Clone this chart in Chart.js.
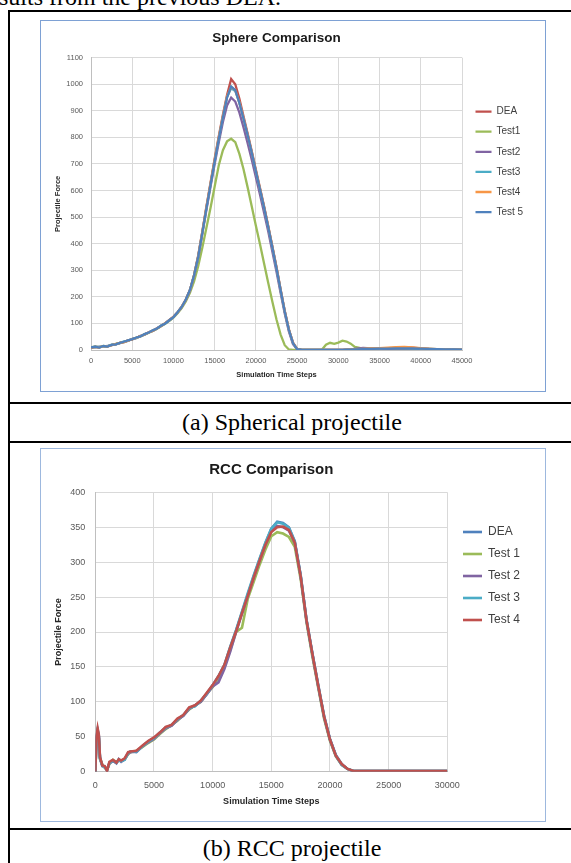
<!DOCTYPE html>
<html><head><meta charset="utf-8">
<script src="https://cdn.jsdelivr.net/npm/chart.js@4.4.1/dist/chart.umd.min.js"></script>
<style>
html,body{margin:0;padding:0;background:#fff;}
body{width:571px;height:863px;overflow:hidden;position:relative;}
.txt{position:absolute;font-family:"Liberation Serif","Times New Roman",serif;font-size:24px;line-height:24px;color:#000;white-space:nowrap;}
.cap{left:10px;width:564px;text-align:center;}
.hl{position:absolute;background:#000;height:2px;left:8px;width:600px;}
.vl{position:absolute;background:#000;width:2px;left:8px;top:10px;height:900px;}
.box{position:absolute;left:40px;width:506px;border:1px solid #7EA1D4;box-sizing:border-box;background:#fff;}
.box canvas{display:block;}
</style></head>
<body>
<div class="txt" style="left:-1px;top:-15px;">sults from the previous DEA.</div>
<div class="hl" style="top:10px"></div>
<div class="vl"></div>
<div class="box" style="top:20px;height:372px;"><canvas id="c1" width="504" height="370"></canvas></div>
<div class="hl" style="top:402px"></div>
<div class="txt cap" style="top:410px;">(a) Spherical projectile</div>
<div class="hl" style="top:441px"></div>
<div class="box" style="top:448px;height:374px;border-color:#9DB8DE;"><canvas id="c2" width="504" height="372"></canvas></div>
<div class="hl" style="top:828px"></div>
<div class="txt cap" style="top:836px;">(b) RCC projectile</div>
<script>
// ---------- Sphere comparison data ----------
const sphereSteps = [0,500,1000,1500,2000,2500,3000,3500,4000,4500,
 5000,5500,6000,6500,7000,7500,8000,8500,9000,9500,
 10000,10500,11000,11500,12000,12500,13000,13500,14000,14500,
 15000,15500,16000,16500,17000,17500,18000,18500,19000,19500,
 20000,20500,21000,21500,22000,22500,23000,23500,24000,24500,
 25000,25500,26000,27000,28000,28500,29000,29500,30000,30500,
 31000,31500,32000,33000,34000,35000,36000,37000,38000,39000,
 40000,41000,42000,43000,44000,45000];
const sphereLabels = ["DEA","Test1","Test2","Test3","Test4","Test 5"];
const sphereDEA = [8,12,9,14,13,19,22,26,31,35,
 41,46,52,59,66,73,81,91,101,112,
 125,142,163,190,226,282,355,445,540,630,
 720,805,885,960,1020,1000,945,880,815,748,
 678,610,540,466,390,312,228,148,78,28,
 4,1,0,0,0,0,0,0,0,0,
 1,1,2,4,5,5,6,8,10,9,
 6,4,3,2,1,1];
const sphereTest1 = [10,13,10,15,14,18,23,27,30,36,
 40,47,51,58,65,72,80,89,99,110,
 122,138,158,183,215,258,315,385,460,535,
 615,695,752,785,795,782,738,680,612,540,
 468,398,325,252,182,115,58,18,2,0,
 0,0,0,0,1,20,27,23,28,35,
 32,24,12,5,4,3,3,2,3,2,
 1,0,0,0,0,0];
const sphereTest2 = [9,11,12,13,15,18,21,27,30,36,
 40,45,53,58,67,72,82,90,100,113,
 124,141,161,188,223,278,348,437,528,615,
 700,782,858,920,950,935,893,838,778,716,
 650,584,516,446,370,294,214,137,70,22,
 3,1,0,0,0,0,0,0,0,0,
 1,2,4,8,6,4,4,5,6,5,
 4,3,2,1,1,1];
const sphereTest3 = [11,10,13,12,15,20,21,26,32,34,
 42,45,52,60,65,74,80,92,100,111,
 124,141,162,189,225,280,352,442,535,625,
 712,797,878,952,985,975,930,870,808,742,
 672,604,535,462,386,308,225,145,76,26,
 3,1,0,0,0,0,0,0,0,0,
 1,1,2,4,5,6,7,8,7,6,
 5,4,3,2,1,1];
const sphereTest4 = [9,12,11,14,14,18,22,27,30,35,
 41,46,52,59,66,73,81,90,101,112,
 125,141,162,189,225,281,353,443,537,627,
 715,800,880,955,990,978,932,872,810,744,
 674,606,537,464,388,310,226,146,77,27,
 3,1,0,0,0,0,0,0,0,0,
 1,1,2,4,6,7,9,11,12,10,
 7,5,3,2,1,1];
const sphereTest5 = [10,13,9,15,13,19,21,27,31,36,
 41,47,51,60,66,74,81,91,100,112,
 124,142,162,190,226,281,350,440,533,622,
 710,795,875,950,992,978,930,870,808,742,
 672,604,535,462,386,308,225,145,76,26,
 3,1,0,0,0,0,0,0,0,0,
 1,1,2,3,4,5,5,6,6,6,
 5,4,3,2,2,1];
const sphereXTicks = [0,5000,10000,15000,20000,25000,30000,35000,40000,45000];
const sphereYTicks = [0,100,200,300,400,500,600,700,800,900,1000,1100];

// ---------- RCC comparison data ----------
const rccSteps = [0,100,200,300,400,600,800,1000,1200,1500,
 1800,2000,2200,2500,2800,3000,3500,4000,4500,5000,
 5500,6000,6500,7000,7500,8000,8500,9000,9500,10000,
 10500,11000,11500,12000,12500,13000,13500,14000,14500,15000,
 15500,16000,16500,17000,17500,18000,18500,19000,19500,20000,
 20500,21000,21500,22000,23000,24000,25000,26000,27000,28000,
 29000,30000];
const rccLabels = ["DEA","Test 1","Test 2","Test 3","Test 4"];
const rccDEA = [0,48,60,52,20,9,7,2,13,16,
 12,18,15,17,27,29,28,36,43,48,
 55,63,66,75,80,91,94,101,111,123,
 136,152,178,202,228,254,280,304,327,348,
 358,356,350,330,282,218,170,124,80,47,
 24,11,4,1,1,1,1,1,1,1,
 1,1];
const rccTest1 = [0,44,57,48,18,10,6,3,11,17,
 14,16,16,18,25,28,30,35,41,46,
 54,61,67,73,81,89,95,100,112,121,
 134,150,174,200,206,248,272,296,318,337,
 343,341,336,322,276,214,165,120,76,44,
 22,10,4,1,1,1,1,1,1,1,
 1,1];
const rccTest2 = [0,46,58,50,19,8,7,3,12,15,
 13,17,14,18,26,28,29,36,42,47,
 55,62,66,74,80,90,95,100,111,122,
 128,147,172,200,226,252,278,302,325,344,
 352,350,345,328,280,216,168,122,78,46,
 23,10,4,1,1,1,1,1,1,1,
 1,1];
const rccTest3 = [0,47,59,51,19,9,6,2,12,16,
 13,17,15,17,27,29,29,36,43,48,
 56,63,67,75,81,91,94,102,112,124,
 137,153,179,203,229,256,281,305,328,348,
 357,355,349,329,281,217,169,123,79,46,
 23,10,4,1,1,1,1,1,1,1,
 1,1];
const rccTest4 = [0,50,62,53,21,9,8,1,14,17,
 13,18,16,19,28,29,30,37,44,49,
 56,64,67,76,81,92,95,102,113,124,
 137,153,178,201,227,252,278,302,325,343,
 350,351,346,328,280,217,169,123,79,46,
 23,11,4,1,1,1,1,1,1,1,
 1,1];
const rccXTicks = [0,5000,10000,15000,20000,25000,30000];
const rccYTicks = [0,50,100,150,200,250,300,350,400];

// ---------- helpers ----------
const C_BLUE='#4F81BD', C_RED='#C0504D', C_GREEN='#9BBB59', C_PURPLE='#8064A2', C_AQUA='#4BACC6', C_ORANGE='#F79646';
Chart.defaults.font.family = '"Liberation Sans", Arial, sans-serif';
function pts(xs, ys){ return xs.map((x,i)=>({x:x, y:ys[i]})); }
function mkSet(label, xs, ys, color, w, order){
  return {label:label, data:pts(xs, ys), borderColor:color, backgroundColor:color,
    borderWidth:w, pointRadius:0, pointHoverRadius:0, tension:0, fill:false, order:order};
}
const placeLegend = {
  id:'placeLegend',
  afterLayout(chart, args, o){
    const lg = chart.legend; if(!lg) return;
    lg.left = o.x; lg.right = o.x + 200; lg.top = o.y; lg.bottom = o.y + 300;
  }
};
function ticksFrom(list){ return function(scale){ scale.ticks = list.map(v=>({value:v})); }; }

function build(id, cfg){
  const s = cfg.sets;
  return new Chart(document.getElementById(id), {
    type:'line',
    data:{datasets:s},
    plugins:[placeLegend],
    options:{
      responsive:false, animation:false, devicePixelRatio:1,
      layout:{padding:{left:0, top:0, bottom:0, right:cfg.padR}},
      plugins:{
        tooltip:{enabled:false},
        title:{display:true, text:cfg.title, fullSize:false, color:'#1a1a1a',
          font:{size:cfg.titleSize, weight:'bold'}, padding:{top:cfg.titleTop, bottom:cfg.titleBottom}},
        legend:{display:true, position:'right', align:'start', maxWidth:1,
          labels:{usePointStyle:true, pointStyle:'line', pointStyleWidth:cfg.legLine,
            padding:cfg.legPad, color:'#404040', font:{size:cfg.legFont},
            sort:(a,b)=>a.datasetIndex-b.datasetIndex}},
        placeLegend:{x:cfg.legX, y:cfg.legY}
      },
      scales:{
        x:{type:'linear', min:0, max:cfg.xMax,
          afterBuildTicks:ticksFrom(cfg.xTicks),
          afterFit(sc){ sc.height = cfg.xH; },
          grid:{color:'#D9D9D9', drawTicks:false},
          border:{color:'#BFBFBF'},
          ticks:{padding:cfg.xPad, color:'#595959', font:{size:cfg.tickSize}, maxRotation:0, autoSkip:false,
            callback:v=>String(v)},
          title:{display:true, text:'Simulation Time Steps', color:'#262626',
            font:{size:cfg.axTitleSize, weight:'bold'}, padding:{top:0, bottom:cfg.xTitlePad}}
        },
        y:{type:'linear', min:0, max:cfg.yMax,
          afterBuildTicks:ticksFrom(cfg.yTicks),
          afterFit(sc){ sc.width = cfg.yW; },
          grid:{color:'#D9D9D9', drawTicks:false},
          border:{color:'#BFBFBF'},
          ticks:{padding:cfg.yPad, color:'#595959', font:{size:cfg.tickSize}, callback:v=>String(v)},
          title:{display:true, text:'Projectile Force', color:'#262626',
            font:{size:cfg.axTitleSize, weight:'bold'}, padding:{top:cfg.yTitlePad, bottom:0}}
        }
      }
    }
  });
}

build('c1', {
  sets:[
    mkSet(sphereLabels[0], sphereSteps, sphereDEA, C_RED, 2.3, 6),
    mkSet(sphereLabels[1], sphereSteps, sphereTest1, C_GREEN, 2.3, 5),
    mkSet(sphereLabels[2], sphereSteps, sphereTest2, C_PURPLE, 2.3, 4),
    mkSet(sphereLabels[3], sphereSteps, sphereTest3, C_AQUA, 2.3, 3),
    mkSet(sphereLabels[4], sphereSteps, sphereTest4, C_ORANGE, 2.3, 2),
    mkSet(sphereLabels[5], sphereSteps, sphereTest5, C_BLUE, 2.3, 1)
  ],
  title:'Sphere Comparison', titleSize:13.5, titleTop:8.9, titleBottom:11.6,
  padR:82, xMax:45000, yMax:1100, xTicks:sphereXTicks, yTicks:sphereYTicks,
  xH:41, yW:50, xPad:6.5, yPad:8, tickSize:7.5, axTitleSize:7.5, xTitlePad:11.5, yTitlePad:12.8,
  legFont:10, legPad:10.1, legLine:16, legX:424.4, legY:75.5
});

build('c2', {
  sets:[
    mkSet(rccLabels[0], rccSteps, rccDEA, C_BLUE, 2.6, 5),
    mkSet(rccLabels[1], rccSteps, rccTest1, C_GREEN, 2.6, 4),
    mkSet(rccLabels[2], rccSteps, rccTest2, C_PURPLE, 2.6, 3),
    mkSet(rccLabels[3], rccSteps, rccTest3, C_AQUA, 2.6, 2),
    mkSet(rccLabels[4], rccSteps, rccTest4, C_RED, 2.6, 1)
  ],
  title:'RCC Comparison', titleSize:15, titleTop:12, titleBottom:13.3,
  padR:96.7, xMax:30000, yMax:400, xTicks:rccXTicks, yTicks:rccYTicks,
  xH:49.3, yW:54.3, xPad:8.4, yPad:10, tickSize:9, axTitleSize:9, xTitlePad:13.9, yTitlePad:12.6,
  legFont:12, legPad:10, legLine:19, legX:412, legY:67
});
</script>
</body></html>
